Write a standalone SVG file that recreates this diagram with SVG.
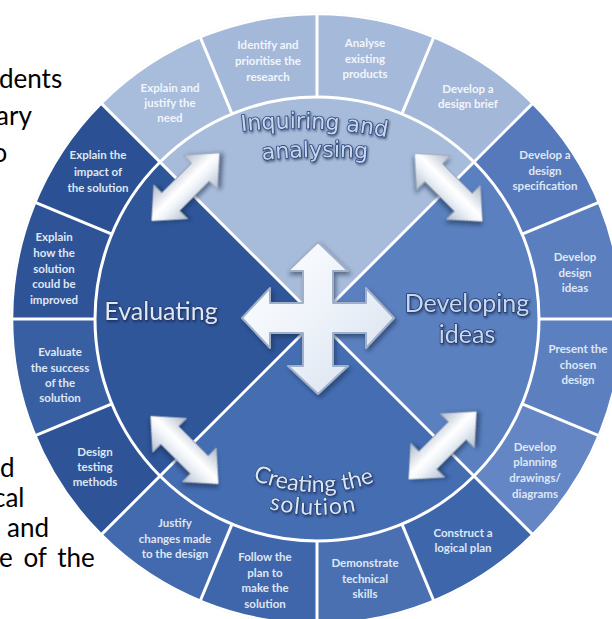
<svg xmlns="http://www.w3.org/2000/svg" width="612" height="619" viewBox="0 0 612 619">
<style>
.bg{font-family:Lato,"Liberation Sans",sans-serif;font-size:26px;fill:#000}
.seg{stroke:none}
.rt{font-family:Lato,"Open Sans",sans-serif;font-weight:700;font-size:11.5px;fill:#dfe7f4;text-anchor:middle}
.rtl{fill:#f2f5fb}
.div{stroke:#ffffff;stroke-width:3;fill:none}
.big{font-family:Lato,"Liberation Sans",sans-serif;text-anchor:middle;paint-order:stroke;stroke-linejoin:round}
.inq{font-family:"DejaVu Sans",sans-serif;font-size:22px;fill:#c9d7ee;stroke:#2a4882;stroke-width:1.6;paint-order:stroke;stroke-linejoin:round}
</style>
<defs>
<filter id="sh" x="-30%" y="-30%" width="160%" height="160%"><feDropShadow dx="2" dy="3" stdDeviation="2" flood-color="#14264a" flood-opacity="0.55"/></filter>
<filter id="tsh" x="-10%" y="-30%" width="120%" height="160%"><feDropShadow dx="1" dy="1.5" stdDeviation="1" flood-color="#0f1f3d" flood-opacity="0.6"/></filter>
<linearGradient id="crossGrad" x1="0" y1="0" x2="1" y2="1"><stop offset="0" stop-color="#ffffff"/><stop offset="0.5" stop-color="#eef3fa"/><stop offset="1" stop-color="#d3deec"/></linearGradient>
<linearGradient id="arrGrad" x1="0" y1="0" x2="0" y2="1"><stop offset="0" stop-color="#aeb9c9"/><stop offset="0.45" stop-color="#ffffff"/><stop offset="0.6" stop-color="#f1f5fa"/><stop offset="1" stop-color="#b4bfcf"/></linearGradient>
<path id="arcInq1" d="M228,133 Q315,121 400,140"/>
<path id="arcInq2" d="M245,162 Q315,153 385,160"/>
<path id="arcCre1" d="M205.8,451.5 A173,173 0 0 0 428.2,451.5"/>
<path id="arcCre2" d="M191,469 A196,196 0 0 0 443,469"/>
</defs>
<rect width="612" height="619" fill="#ffffff"/>
<g id="background-text">
<text class="bg" x="-1" y="88">dents</text>
<text class="bg" x="-4" y="125">ary</text>
<text class="bg" x="-7.5" y="162">o</text>
<text class="bg" x="0" y="477">d</text>
<text class="bg" x="-7" y="507">cal</text>
<text class="bg" x="7" y="537">and</text>
<text class="bg" x="-1" y="567" word-spacing="4">e of the</text>
</g>
<circle cx="317" cy="319" r="306" fill="#ffffff" stroke="#ddd6c2" stroke-width="1" stroke-dasharray="1 2"/>
<g id="seg-explain-justify"><path class="seg" fill="#a8bcdb" d="M101.33,103.33 A305,305 0 0 1 200.28,37.22 L232.04,113.90 A222,222 0 0 0 160.02,162.02 Z"/><text class="rt rtl"><tspan x="170" y="92">Explain and</tspan><tspan x="170" y="107">justify the</tspan><tspan x="170" y="122">need</tspan></text></g>
<g id="seg-identify"><path class="seg" fill="#a4b9d9" d="M200.28,37.22 A305,305 0 0 1 317,14 L317,97 A222,222 0 0 0 232.04,113.90 Z"/><text class="rt rtl"><tspan x="268" y="49">Identify and</tspan><tspan x="268" y="65">prioritise the</tspan><tspan x="268" y="81">research</tspan></text></g>
<g id="seg-analyse"><path class="seg" fill="#a5bada" d="M317,14 A305,305 0 0 1 433.72,37.22 L401.96,113.90 A222,222 0 0 0 317,97 Z"/><text class="rt rtl"><tspan x="365" y="47">Analyse</tspan><tspan x="365" y="63">existing</tspan><tspan x="365" y="78">products</tspan></text></g>
<g id="seg-brief"><path class="seg" fill="#a3b8d8" d="M433.72,37.22 A305,305 0 0 1 532.67,103.33 L473.98,162.02 A222,222 0 0 0 401.96,113.90 Z"/><text class="rt rtl"><tspan x="468" y="93">Develop a</tspan><tspan x="468" y="108">design brief</tspan></text></g>
<g id="seg-specification"><path class="seg" fill="#5579ba" d="M532.67,103.33 A305,305 0 0 1 598.78,202.28 L522.10,234.04 A222,222 0 0 0 473.98,162.02 Z"/><text class="rt"><tspan x="545" y="159">Develop a</tspan><tspan x="545" y="175">design</tspan><tspan x="545" y="190">specification</tspan></text></g>
<g id="seg-design-ideas"><path class="seg" fill="#5a7ebe" d="M598.78,202.28 A305,305 0 0 1 622,319 L539,319 A222,222 0 0 0 522.10,234.04 Z"/><text class="rt"><tspan x="575" y="261">Develop</tspan><tspan x="575" y="277">design</tspan><tspan x="575" y="292">ideas</tspan></text></g>
<g id="seg-present"><path class="seg" fill="#5c80bf" d="M622,319 A305,305 0 0 1 598.78,435.72 L522.10,403.96 A222,222 0 0 0 539,319 Z"/><text class="rt"><tspan x="578" y="353">Present the</tspan><tspan x="578" y="369">chosen</tspan><tspan x="578" y="384">design</tspan></text></g>
<g id="seg-planning"><path class="seg" fill="#6486c4" d="M598.78,435.72 A305,305 0 0 1 532.67,534.67 L473.98,475.98 A222,222 0 0 0 522.10,403.96 Z"/><text class="rt"><tspan x="535" y="451">Develop</tspan><tspan x="535" y="466">planning</tspan><tspan x="535" y="482">drawings/</tspan><tspan x="535" y="498">diagrams</tspan></text></g>
<g id="seg-construct"><path class="seg" fill="#3e66ab" d="M532.67,534.67 A305,305 0 0 1 433.72,600.78 L401.96,524.10 A222,222 0 0 0 473.98,475.98 Z"/><text class="rt"><tspan x="463" y="537">Construct a</tspan><tspan x="463" y="552">logical plan</tspan></text></g>
<g id="seg-demonstrate"><path class="seg" fill="#4a70b2" d="M433.72,600.78 A305,305 0 0 1 317,624 L317,541 A222,222 0 0 0 401.96,524.10 Z"/><text class="rt"><tspan x="365" y="567">Demonstrate</tspan><tspan x="365" y="583">technical</tspan><tspan x="365" y="598">skills</tspan></text></g>
<g id="seg-follow"><path class="seg" fill="#3f65aa" d="M317,624 A305,305 0 0 1 200.28,600.78 L232.04,524.10 A222,222 0 0 0 317,541 Z"/><text class="rt"><tspan x="265" y="561">Follow the</tspan><tspan x="265" y="577">plan to</tspan><tspan x="265" y="592">make the</tspan><tspan x="265" y="608">solution</tspan></text></g>
<g id="seg-justify"><path class="seg" fill="#4369ae" d="M200.28,600.78 A305,305 0 0 1 101.33,534.67 L160.02,475.98 A222,222 0 0 0 232.04,524.10 Z"/><text class="rt"><tspan x="175" y="527">Justify</tspan><tspan x="175" y="543">changes made</tspan><tspan x="175" y="558">to the design</tspan></text></g>
<g id="seg-testing"><path class="seg" fill="#2e5497" d="M101.33,534.67 A305,305 0 0 1 35.22,435.72 L111.90,403.96 A222,222 0 0 0 160.02,475.98 Z"/><text class="rt"><tspan x="95" y="456">Design</tspan><tspan x="95" y="471">testing</tspan><tspan x="95" y="486">methods</tspan></text></g>
<g id="seg-evaluate"><path class="seg" fill="#395fa3" d="M35.22,435.72 A305,305 0 0 1 12,319 L95,319 A222,222 0 0 0 111.90,403.96 Z"/><text class="rt"><tspan x="60" y="356">Evaluate</tspan><tspan x="60" y="372">the success</tspan><tspan x="60" y="387">of the</tspan><tspan x="60" y="402">solution</tspan></text></g>
<g id="seg-improved"><path class="seg" fill="#2e5397" d="M12,319 A305,305 0 0 1 35.22,202.28 L111.90,234.04 A222,222 0 0 0 95,319 Z"/><text class="rt"><tspan x="54" y="241">Explain</tspan><tspan x="54" y="257">how the</tspan><tspan x="54" y="273">solution</tspan><tspan x="54" y="288">could be</tspan><tspan x="54" y="304">improved</tspan></text></g>
<g id="seg-impact"><path class="seg" fill="#2b5093" d="M35.22,202.28 A305,305 0 0 1 101.33,103.33 L160.02,162.02 A222,222 0 0 0 111.90,234.04 Z"/><text class="rt"><tspan x="98" y="159">Explain the</tspan><tspan x="98" y="176">impact of</tspan><tspan x="98" y="192">the solution</tspan></text></g>
<g id="quadrant-inquiring"><path fill="#a7bbda" d="M317,319 L160.02,162.02 A222,222 0 0 1 473.98,162.02 Z"/></g>
<g id="quadrant-developing"><path fill="#5b80bf" d="M317,319 L473.98,162.02 A222,222 0 0 1 473.98,475.98 Z"/></g>
<g id="quadrant-creating"><path fill="#456db2" d="M317,319 L473.98,475.98 A222,222 0 0 1 160.02,475.98 Z"/></g>
<g id="quadrant-evaluating"><path fill="#30569a" d="M317,319 L160.02,475.98 A222,222 0 0 1 160.02,162.02 Z"/></g>
<g id="dividers" class="div">
<circle cx="317" cy="319" r="305" stroke-width="2.5"/>
<circle cx="317" cy="319" r="222"/>
<line x1="101.33" y1="103.33" x2="532.67" y2="534.67"/>
<line x1="532.67" y1="103.33" x2="101.33" y2="534.67"/>
<line x1="232.04" y1="113.90" x2="200.28" y2="37.22"/>
<line x1="317" y1="97" x2="317" y2="14"/>
<line x1="401.96" y1="113.90" x2="433.72" y2="37.22"/>
<line x1="522.10" y1="234.04" x2="598.78" y2="202.28"/>
<line x1="539" y1="319" x2="622" y2="319"/>
<line x1="522.10" y1="403.96" x2="598.78" y2="435.72"/>
<line x1="401.96" y1="524.10" x2="433.72" y2="600.78"/>
<line x1="317" y1="541" x2="317" y2="624"/>
<line x1="232.04" y1="524.10" x2="200.28" y2="600.78"/>
<line x1="111.90" y1="403.96" x2="35.22" y2="435.72"/>
<line x1="95" y1="319" x2="12" y2="319"/>
<line x1="111.90" y1="234.04" x2="35.22" y2="202.28"/>
</g>
<g id="label-inquiring" filter="url(#tsh)">
<text class="inq" text-anchor="middle"><textPath href="#arcInq1" startOffset="50%">Inquiring and</textPath></text>
<text class="inq" text-anchor="middle"><textPath href="#arcInq2" startOffset="50%">analysing</textPath></text>
</g>
<g id="label-developing" filter="url(#tsh)">
<text class="big" x="467" y="312" font-size="25" fill="#c8d7ef" stroke="#1e3a70" stroke-width="1.4">Developing</text>
<text class="big" x="467" y="343" font-size="25" fill="#c8d7ef" stroke="#1e3a70" stroke-width="1.4">ideas</text>
</g>
<g id="label-evaluating" filter="url(#tsh)">
<text class="big" x="161" y="320" font-size="25" fill="#dfe7f4" stroke="#1d3766" stroke-width="0.8">Evaluating</text>
</g>
<g id="label-creating" filter="url(#tsh)">
<text class="big" font-size="23" fill="#d9e4f4" stroke="#1d3766" stroke-width="1"><textPath href="#arcCre1" startOffset="48.5%">Creating the</textPath></text>
<text class="big" font-size="23" fill="#d9e4f4" stroke="#1d3766" stroke-width="1" letter-spacing="1"><textPath href="#arcCre2" startOffset="48.5%">solution</textPath></text>
</g>
<g id="connectors">
<g transform="translate(185.5,187) rotate(-45)" filter="url(#sh)"><polygon points="-48,0 -21,-24 -21,-12.5 21,-12.5 21,-24 48,0 21,24 21,12.5 -21,12.5 -21,24" fill="url(#arrGrad)" stroke="#9aa8bc" stroke-width="1"/></g>
<g transform="translate(448.5,187.5) rotate(45)" filter="url(#sh)"><polygon points="-48,0 -21,-24 -21,-12.5 21,-12.5 21,-24 48,0 21,24 21,12.5 -21,12.5 -21,24" fill="url(#arrGrad)" stroke="#9aa8bc" stroke-width="1"/></g>
<g transform="translate(184.5,450) rotate(45)" filter="url(#sh)"><polygon points="-48,0 -21,-24 -21,-12.5 21,-12.5 21,-24 48,0 21,24 21,12.5 -21,12.5 -21,24" fill="url(#arrGrad)" stroke="#9aa8bc" stroke-width="1"/></g>
<g transform="translate(442.5,445.5) rotate(-45)" filter="url(#sh)"><polygon points="-48,0 -21,-24 -21,-12.5 21,-12.5 21,-24 48,0 21,24 21,12.5 -21,12.5 -21,24" fill="url(#arrGrad)" stroke="#9aa8bc" stroke-width="1"/></g>
<g id="center-cross" filter="url(#sh)"><polygon points="318,242 348,271 333,271 333,303 366,303 366,288 394,318 366,348 366,333 333,333 333,366 348,366 318,394 288,366 303,366 303,333 270,333 270,348 242,318 270,288 270,303 303,303 303,271 288,271" fill="url(#crossGrad)" stroke="#9fb0c8" stroke-width="2" stroke-linejoin="round"/></g>
</g>
</svg>
